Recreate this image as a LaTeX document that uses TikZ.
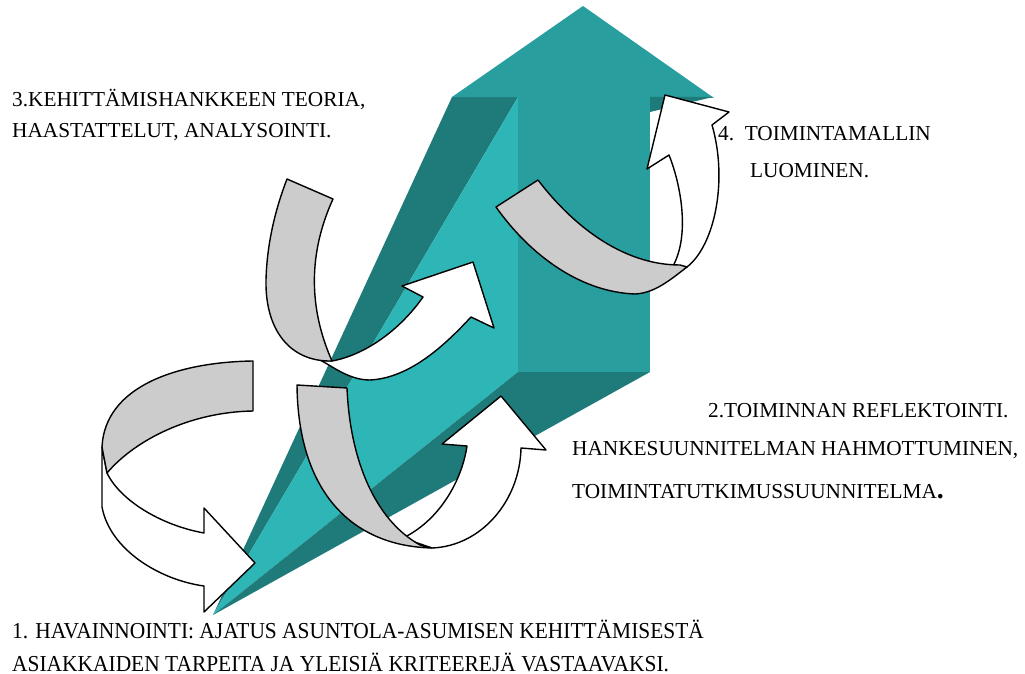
\documentclass[tikz,border=0pt]{standalone}
\usepackage{fontspec}
\setmainfont{Liberation Serif}
\definecolor{tealmid}{RGB}{40,158,158}
\definecolor{teallight}{RGB}{46,181,181}
\definecolor{tealdark}{RGB}{31,122,122}
\definecolor{ribbongray}{RGB}{204,204,204}

\begin{document}
\begin{tikzpicture}[x=1pt, y=-1pt,
    ribbon/.style={draw=black, fill=ribbongray, line width=1.4pt, line join=round},
    front/.style={draw=black, fill=white, line width=1.4pt, line join=round},
    stagetext/.style={anchor=base west, inner sep=0pt, font=\fontsize{21.3}{25}\selectfont},
    narrowtext/.style={stagetext, font=\fontsize{22.8}{26}\selectfont}]
    \useasboundingbox (0,0) rectangle (1025,674);
    % big arrow
    \fill[tealdark] (452,97) -- (518,97) -- (213,615) -- cycle;
    \fill[teallight] (518,97) -- (518,372) -- (213,615) -- cycle;
    \fill[tealdark] (518,372) -- (650,372) -- (213,615) -- cycle;
    \fill[tealmid] (518,97) rectangle (650,372);
    \fill[tealmid] (452,97) -- (583,6) -- (714,98) -- cycle;
    \fill[tealdark] (650,97) -- (713,97) -- (650,112) -- cycle;
    % 1. round arrow
    \draw[front] (102,447) -- (102,507) .. controls (110,550) and (160,580) .. (204,586)
        -- (204,612) -- (255,563) -- (204,508) -- (204,533)
        .. controls (160,525) and (120,500) .. (107,473) -- cycle;
    \draw[ribbon] (253,361) .. controls (180,362) and (105,385) .. (102,447) -- (107,473)
        .. controls (135,440) and (190,412) .. (253,411) -- cycle;
    % 2. round arrow
    \draw[front] (432,548) .. controls (482,546) and (520,500) .. (521,448)
        -- (546,450) -- (501,396) -- (442,444) -- (467,446)
        .. controls (462,480) and (440,520) .. (403,538) -- cycle;
    \draw[ribbon] (297,385) -- (347,388) .. controls (350,460) and (375,520) .. (420,545)
        -- (432,548) .. controls (350,546) and (298,490) .. (297,385) -- cycle;
    % 3. round arrow
    \draw[front] (332,361) .. controls (365,355) and (400,330) .. (423,297)
        -- (402,286) -- (473,262) -- (494,328) -- (471,317)
        .. controls (445,345) and (410,378) .. (370,380)
        .. controls (350,380) and (335,368) .. (320,360) -- cycle;
    \draw[ribbon] (287,179) -- (333,199) .. controls (312,245) and (305,300) .. (332,361)
        .. controls (290,362) and (265,330) .. (266,280)
        .. controls (267,240) and (277,205) .. (287,179) -- cycle;
    % 4. round arrow
    \draw[front] (673,266) -- (687,267) .. controls (715,245) and (728,180) .. (712,125)
        -- (729,112) -- (665,95) -- (647,169) -- (669,155)
        .. controls (681,185) and (690,235) .. (673,266) -- cycle;
    \draw[ribbon] (496,207) -- (538,180) .. controls (570,222) and (620,265) .. (680,265)
        -- (687,267) .. controls (670,280) and (655,293) .. (635,294)
        .. controls (580,292) and (530,255) .. (496,207) -- cycle;
    % texts
    \node[stagetext] (t3a) at (12,107) {3.KEHITTÄMISHANKKEEN TEORIA,};
    \node[stagetext] (t3b) at (12,138) {HAASTATTELUT, ANALYSOINTI.};
    \node[stagetext] (t4a) at (718,141) {4.\ \ TOIMINTAMALLIN};
    \node[stagetext] (t4b) at (750,177) {LUOMINEN.};
    \node[stagetext] (t2a) at (708,417) {2.TOIMINNAN REFLEKTOINTI.};
    \node[stagetext] (t2b) at (572,455) {HANKESUUNNITELMAN HAHMOTTUMINEN,};
    \node[stagetext] (t2c) at (572,498) {TOIMINTATUTKIMUSSUUNNITELMA{\fontsize{28}{28}\selectfont\bfseries .}};
    \node[narrowtext] (t1a) at (12,638) {\scalebox{0.94}[1]{1. HAVAINNOINTI: AJATUS ASUNTOLA-ASUMISEN KEHITTÄMISESTÄ}};
    \node[narrowtext] (t1b) at (12,671) {\scalebox{0.94}[1]{ASIAKKAIDEN TARPEITA JA YLEISIÄ KRITEEREJÄ VASTAAVAKSI.}};
\end{tikzpicture}
\end{document}
